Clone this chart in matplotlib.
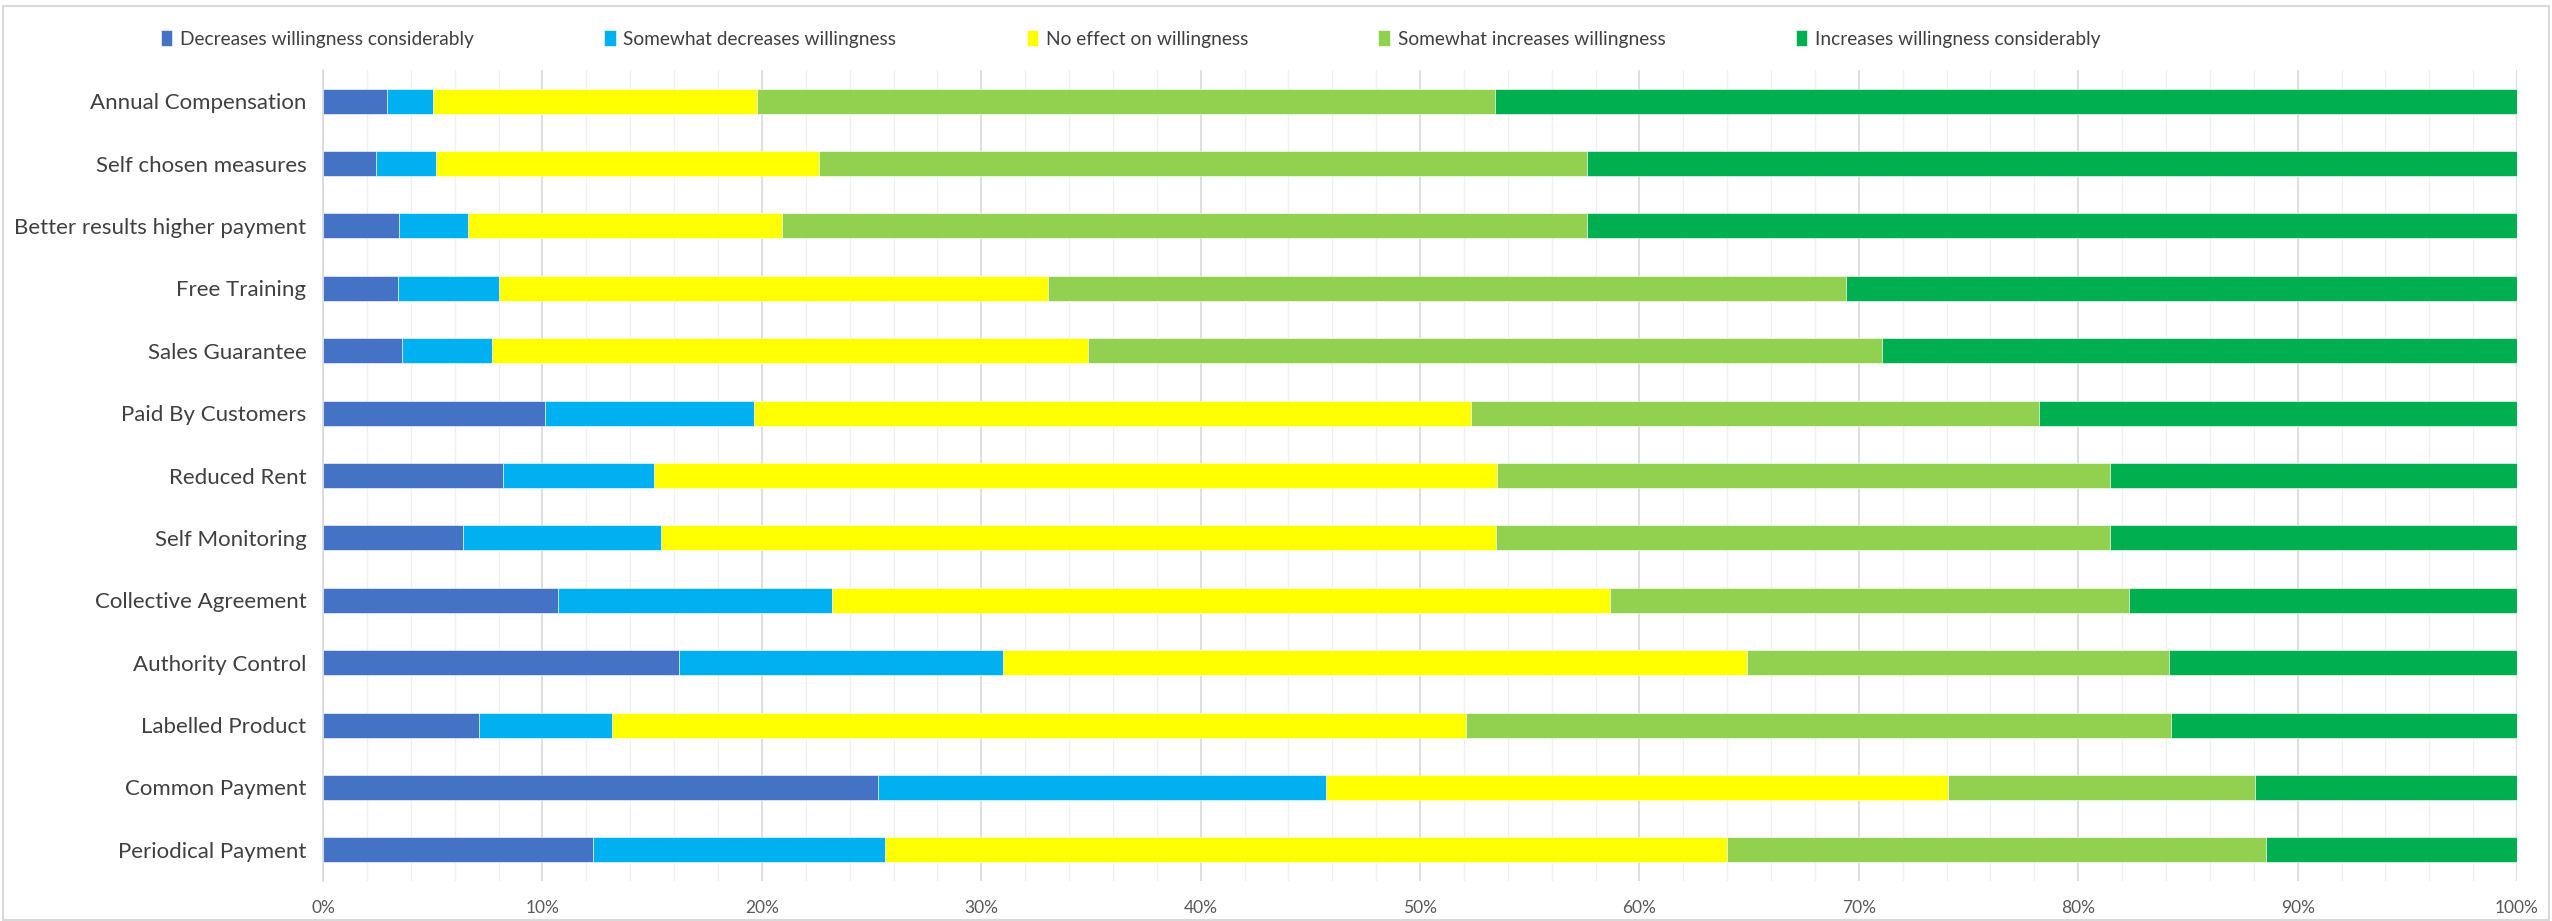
import numpy as np
import matplotlib
matplotlib.use('Agg')
from matplotlib import pyplot as plt
from matplotlib.ticker import MultipleLocator, PercentFormatter
from matplotlib.patches import Rectangle

# categories, top to bottom
categories = ['Annual Compensation', 'Self chosen measures', 'Better results higher payment',
              'Free Training', 'Sales Guarantee', 'Paid By Customers', 'Reduced Rent',
              'Self Monitoring', 'Collective Agreement', 'Authority Control',
              'Labelled Product', 'Common Payment', 'Periodical Payment']

# shares in percent, one list per response
decreases_cons = [2.9, 2.4, 3.45, 3.4, 3.6, 10.1, 8.2, 6.4, 10.7, 16.2, 7.1, 25.3, 12.3]
somewhat_decr  = [2.1, 2.75, 3.15, 4.6, 4.1, 9.55, 6.9, 9.0, 12.5, 14.8, 6.05, 20.4, 13.3]
no_effect      = [14.8, 17.45, 14.3, 25.05, 27.15, 32.65, 38.4, 38.05, 35.45, 33.9, 38.95, 28.35, 38.4]
somewhat_incr  = [33.6, 35.0, 36.7, 36.35, 36.2, 25.9, 27.95, 28.0, 23.65, 19.25, 32.15, 14.0, 24.55]
increases_cons = [46.6, 42.4, 42.4, 30.6, 28.95, 21.8, 18.55, 18.55, 17.7, 15.85, 15.75, 12.0, 11.45]

series_names = ['Decreases willingness considerably', 'Somewhat decreases willingness',
                'No effect on willingness', 'Somewhat increases willingness',
                'Increases willingness considerably']
colors = ['#4472C4', '#00B0F0', '#FFFF00', '#92D050', '#00B050']

plt.rcParams['font.family'] = ['Lato', 'DejaVu Sans']

fig = plt.figure(figsize=(25.52, 9.21), dpi=100)
ax = fig.add_axes([0.1266, 0.0434, 0.8597, 0.8806])

ypos = np.arange(len(categories))[::-1]
left = np.zeros(len(categories))
series = [decreases_cons, somewhat_decr, no_effect, somewhat_incr, increases_cons]
for vals, name, col in zip(series, series_names, colors):
    vals = np.array(vals)
    ax.barh(ypos, vals, left=left, height=0.4, color=col, label=name,
            edgecolor='white', linewidth=0.4, zorder=3)
    left = left + vals

ax.set_xlim(0, 100)
ax.set_ylim(-0.5, len(categories) - 0.5)
ax.set_yticks(ypos)
ax.set_yticklabels(categories, fontsize=16.0, color='#404040')
ax.xaxis.set_major_locator(MultipleLocator(10))
ax.xaxis.set_minor_locator(MultipleLocator(2))
ax.xaxis.set_major_formatter(PercentFormatter(decimals=0))
ax.tick_params(axis='x', labelsize=12.5, labelcolor='#595959', length=0, pad=14, which='both')
ax.tick_params(axis='y', length=0, pad=12)
ax.grid(axis='x', which='major', color='#D9D9D9', linewidth=1.2, zorder=0)
ax.grid(axis='x', which='minor', color='#F0F0F0', linewidth=1.0, zorder=0)
for s in ['top', 'right', 'bottom']:
    ax.spines[s].set_visible(False)
ax.spines['left'].set_color('#D9D9D9')
ax.spines['left'].set_linewidth(1.2)

fig.legend(loc='upper center', bbox_to_anchor=(0.443, 0.986), ncol=5, frameon=False,
           fontsize=13.8, handlelength=0.6, handleheight=0.9, handletextpad=0.4,
           columnspacing=6.8, labelcolor='#404040')

fig.patches.append(Rectangle((0.001, 0.001), 0.998, 0.993, transform=fig.transFigure,
                             fill=False, edgecolor='#D9D9D9', linewidth=1.5))

plt.savefig('out.png', dpi=100)
